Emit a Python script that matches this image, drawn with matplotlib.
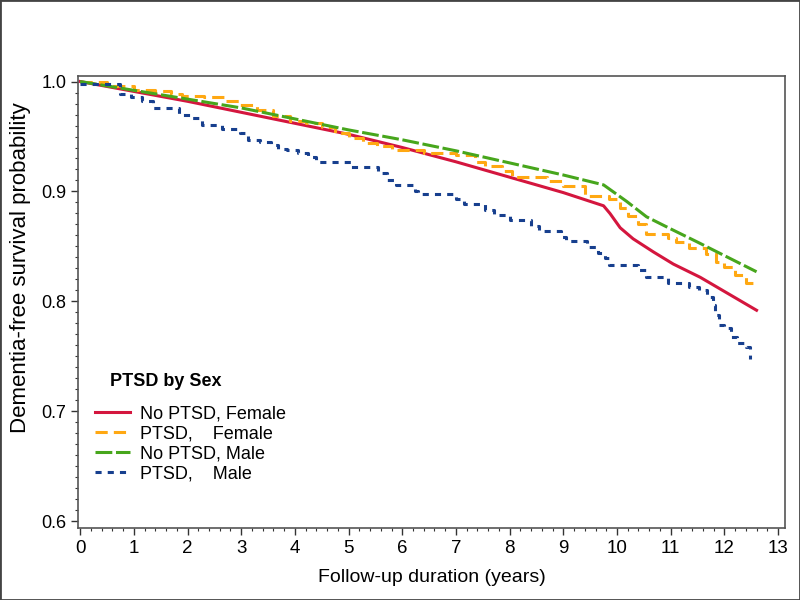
import matplotlib
matplotlib.use("Agg")
import matplotlib.pyplot as plt
from matplotlib.ticker import MultipleLocator, FormatStrFormatter

# Kaplan-Meier estimates
years_nf = [0, 1, 2, 3, 4, 5, 6, 7, 8, 9, 9.75, 9.87, 10.06, 10.3, 10.68, 11.05, 11.55, 12.6]
surv_nf = [1.0, 0.991, 0.982, 0.972, 0.962, 0.952, 0.940, 0.927, 0.913, 0.899, 0.887, 0.880,
           0.867, 0.857, 0.845, 0.834, 0.822, 0.792]

years_pf = [0, 0.5, 1.0, 1.4, 1.7, 1.9, 2.3, 2.7, 2.95, 3.3, 3.6, 3.9, 4.2, 4.5, 4.75, 5.0, 5.27,
            5.53, 5.8, 6.4, 7.0, 7.35, 7.55, 7.85, 8.05, 8.7, 9.0, 9.4, 9.85, 10.05, 10.2, 10.4,
            10.55, 10.95, 11.1, 11.35, 11.65, 11.85, 12.0, 12.2, 12.4, 12.57]
surv_pf = [1.0, 0.996, 0.992, 0.991, 0.989, 0.987, 0.986, 0.982, 0.979, 0.974, 0.969, 0.964, 0.962,
           0.959, 0.953, 0.949, 0.944, 0.941, 0.9375, 0.935, 0.933, 0.927, 0.923, 0.9186, 0.913,
           0.9095, 0.905, 0.896, 0.893, 0.885, 0.878, 0.8705, 0.861, 0.858, 0.8537, 0.849, 0.843,
           0.8355, 0.831, 0.8244, 0.8166, 0.8166]

years_nm = [0, 1, 2, 3, 4, 5, 6, 7, 8, 9, 9.75, 10.18, 10.55, 11.0, 11.5, 12.6]
surv_nm = [1.0, 0.992, 0.984, 0.976, 0.966, 0.956, 0.947, 0.937, 0.926, 0.915, 0.906, 0.891,
           0.877, 0.866, 0.854, 0.827]

years_pm = [0, 0.75, 0.95, 1.15, 1.35, 1.85, 2.05, 2.27, 2.65, 2.97, 3.12, 3.35, 3.55, 3.68, 3.85,
            4.05, 4.25, 4.4, 5.05, 5.55, 5.72, 5.88, 6.23, 6.3, 7.0, 7.15, 7.55, 7.7, 8.0, 8.4,
            8.55, 8.95, 9.05, 9.45, 9.65, 9.78, 9.85, 10.4, 10.55, 10.95, 11.35, 11.52, 11.68,
            11.78, 11.83, 11.9, 12.0, 12.12, 12.24, 12.4, 12.48]
surv_pm = [0.998, 0.989, 0.986, 0.9826, 0.976, 0.970, 0.967, 0.9605, 0.957, 0.953, 0.947, 0.945,
           0.942, 0.9386, 0.9377, 0.935, 0.9316, 0.927, 0.9225, 0.9168, 0.9105, 0.906, 0.900,
           0.8977, 0.893, 0.8886, 0.883, 0.8786, 0.874, 0.8686, 0.8644, 0.8586, 0.855, 0.8495,
           0.8444, 0.8395, 0.8332, 0.8286, 0.8223, 0.8168, 0.8135, 0.8105, 0.804, 0.7968, 0.7877,
           0.7786, 0.7759, 0.768, 0.7625, 0.7589, 0.7475]

labels = ["No PTSD, Female", "PTSD,    Female", "No PTSD, Male", "PTSD,    Male"]
x_ticks = list(range(0, 14))
y_ticks = [0.6, 0.7, 0.8, 0.9, 1.0]

RED = "#d4163e"
ORANGE = "#ffa812"
GREEN = "#47a61c"
BLUE = "#173f8e"

plt.rcParams["font.family"] = ["Liberation Sans", "DejaVu Sans"]

fig = plt.figure(figsize=(8, 6), dpi=100)
ax = fig.add_axes([0.0975, 0.12, 0.88375, 0.7533])

ax.plot(years_nf, surv_nf, color=RED, lw=2.2, label=labels[0])
ax.plot(years_pf, surv_pf, color=ORANGE, lw=2.2, dashes=(4, 2), drawstyle="steps-post", label=labels[1])
ax.plot(years_nm, surv_nm, color=GREEN, lw=2.2, dashes=(5.5, 1.2), label=labels[2])
ax.plot(years_pm, surv_pm, color=BLUE, lw=2.2, dashes=(2, 2), drawstyle="steps-post", label=labels[3])

ax.set_xlim(-0.04, 13.13)
ax.set_ylim(0.594, 1.005)
ax.set_xticks(x_ticks)
ax.set_yticks(y_ticks)
ax.xaxis.set_minor_locator(MultipleLocator(0.2))
ax.yaxis.set_minor_locator(MultipleLocator(0.01))
ax.yaxis.set_major_formatter(FormatStrFormatter("%.1f"))
ax.tick_params(which="major", length=5, width=1, color="#333333", labelsize=13)
ax.tick_params(axis="x", which="major", labelsize=13.5)
ax.tick_params(which="minor", length=2.5, width=0.8, color="#333333")

for sp in ax.spines.values():
    sp.set_color("#555555")
    sp.set_linewidth(1.2)

ax.set_xlabel("Follow-up duration (years)", fontsize=14, labelpad=9)
ax.set_ylabel("Dementia-free survival probability", fontsize=16)
ax.yaxis.set_label_coords(-0.066, 0.575)

ax.text(0.045, 0.325, "PTSD by Sex", transform=ax.transAxes, fontsize=13,
        fontweight="bold", va="center", ha="left")
leg = ax.legend(loc="upper left", bbox_to_anchor=(0.024, 0.271),
                frameon=False, fontsize=13, handlelength=1.95, handletextpad=0.55,
                labelspacing=0.16, borderpad=0, borderaxespad=0)

fig.add_artist(plt.Rectangle((0, 0), 1, 1, transform=fig.transFigure, fill=False,
                             edgecolor="#444444", linewidth=2))

fig.savefig("out.png", dpi=100)
